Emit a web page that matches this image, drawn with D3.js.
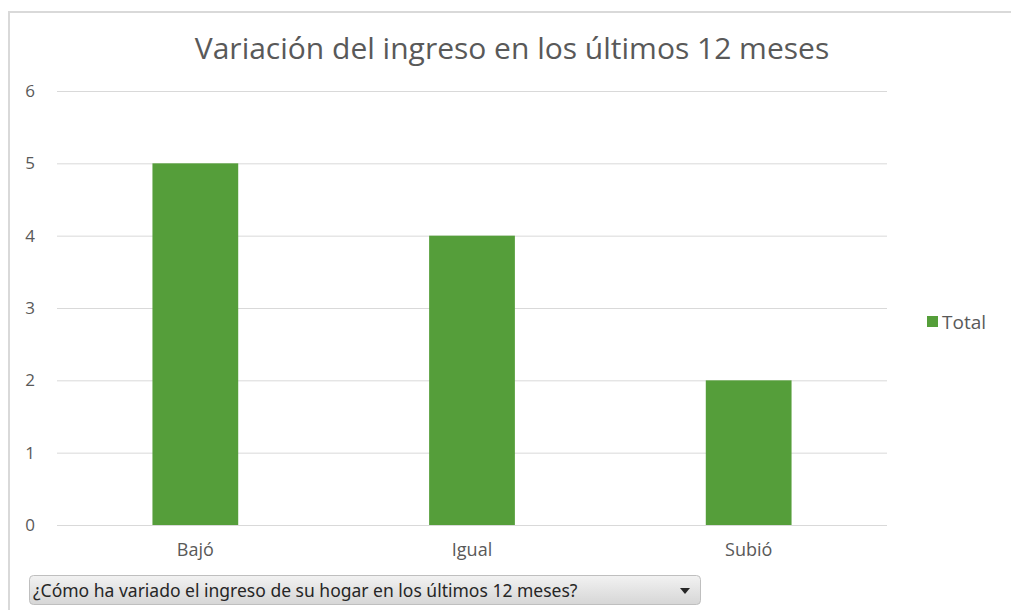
<!DOCTYPE html>
<html>
<head>
<meta charset="utf-8">
<script src="https://cdn.jsdelivr.net/npm/d3@7"></script>
<style>
  html, body { margin: 0; padding: 0; background: #fff; }
  svg { display: block; }
</style>
</head>
<body>
<svg id="chart" width="1011" height="610"></svg>
<script>
const title = "Variación del ingreso en los últimos 12 meses";
const categories = ["Bajó", "Igual", "Subió"];
const values = [5, 4, 2];
const yTicks = [0, 1, 2, 3, 4, 5, 6];
const seriesName = "Total";
const filterLabel = "¿Cómo ha variado el ingreso de su hogar en los últimos 12 meses?";

const svg = d3.select("#chart");
const font = "'Open Sans', 'Noto Sans', sans-serif";
const textColor = "#595959";
const barColor = "#559e3a";

// outer frame
svg.append("path")
  .attr("d", "M9,610 V12 H1011")
  .attr("fill", "none")
  .attr("stroke", "#d9d9d9")
  .attr("stroke-width", 2);

const x = d3.scaleBand().domain(categories).range([57, 887]).paddingInner(0.69).paddingOuter(0.345);
const y = d3.scaleLinear().domain([0, 6]).range([525, 91]);

// gridlines
svg.append("g").selectAll("line").data(yTicks).join("line")
  .attr("x1", 57).attr("x2", 887)
  .attr("y1", d => y(d) + 0.5).attr("y2", d => y(d) + 0.5)
  .attr("stroke", "#d9d9d9").attr("stroke-width", 1);

// y tick labels
svg.append("g").selectAll("text").data(yTicks).join("text")
  .attr("x", 30).attr("y", d => y(d))
  .attr("dy", "0.35em")
  .attr("text-anchor", "middle")
  .attr("font-family", font).attr("font-size", 17)
  .attr("fill", textColor)
  .text(d => d);

// bars
svg.append("g").selectAll("rect").data(values).join("rect")
  .attr("x", (d, i) => x(categories[i]))
  .attr("width", x.bandwidth())
  .attr("y", d => y(d))
  .attr("height", d => y(0) - y(d))
  .attr("fill", barColor);

// x labels
svg.append("g").selectAll("text").data(categories).join("text")
  .attr("x", d => x(d) + x.bandwidth() / 2)
  .attr("y", 550)
  .attr("dy", "0.35em")
  .attr("text-anchor", "middle")
  .attr("font-family", font).attr("font-size", 18)
  .attr("fill", textColor)
  .text(d => d);

// title
svg.append("text")
  .attr("x", 512).attr("y", 48)
  .attr("dy", "0.35em")
  .attr("text-anchor", "middle")
  .attr("font-family", font).attr("font-size", 30)
  .attr("fill", textColor)
  .text(title);

// legend
svg.append("rect").attr("x", 927).attr("y", 316).attr("width", 11).attr("height", 11).attr("fill", barColor);
svg.append("text")
  .attr("x", 942).attr("y", 322)
  .attr("dy", "0.35em")
  .attr("font-family", font).attr("font-size", 19)
  .attr("fill", textColor)
  .text(seriesName);

// dropdown filter button
const defs = svg.append("defs");
const grad = defs.append("linearGradient").attr("id", "btnGrad").attr("x1", 0).attr("x2", 0).attr("y1", 0).attr("y2", 1);
grad.append("stop").attr("offset", "0%").attr("stop-color", "#f2f2f2");
grad.append("stop").attr("offset", "100%").attr("stop-color", "#d6d6d6");
svg.append("rect")
  .attr("x", 29.5).attr("y", 575.5).attr("width", 671).attr("height", 29)
  .attr("rx", 4).attr("ry", 4)
  .attr("fill", "url(#btnGrad)")
  .attr("stroke", "#bfbfbf");
svg.append("text")
  .attr("x", 33).attr("y", 591)
  .attr("dy", "0.35em")
  .attr("font-family", "'Noto Sans', 'Open Sans', sans-serif").attr("font-size", 17.5)
  .attr("fill", "#262626")
  .text(filterLabel);
svg.append("path")
  .attr("d", "M680,588 L690,588 L685,594 Z")
  .attr("fill", "#262626");
</script>
</body>
</html>
